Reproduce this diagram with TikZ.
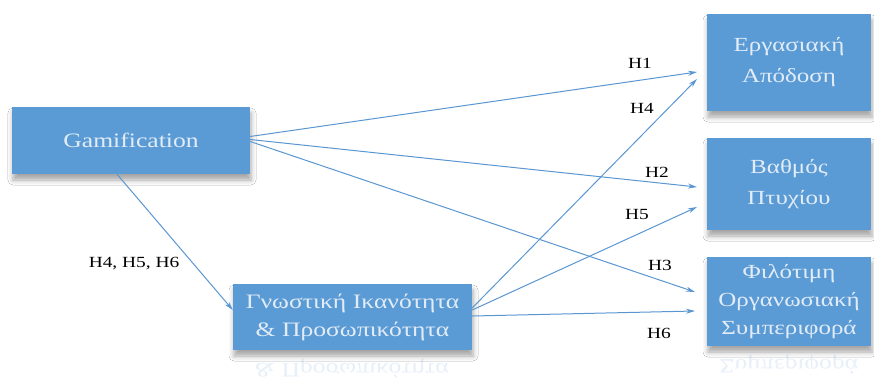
\documentclass[tikz,border=0pt]{standalone}
\usepackage{fontspec}
\setmainfont[FakeStretch=1.25]{Liberation Serif}
\usetikzlibrary{shadows.blur,arrows.meta}
\definecolor{boxblue}{HTML}{5B9BD5}
\definecolor{boxtext}{HTML}{E2ECF7}
\definecolor{linkblue}{HTML}{5A97D2}
\tikzset{
  construct/.style={draw=none, fill=boxblue, text=boxtext, align=center,
    font=\fontsize{20.5}{28}\selectfont, inner sep=0pt,
    blur shadow={shadow xshift=1pt, shadow yshift=-6pt, shadow blur radius=5pt, shadow opacity=35}},
  outcome/.style={construct, minimum width=164pt, font=\fontsize{20}{31}\selectfont},
  mirror/.style={text=boxblue!15, align=center, yscale=-1,
    font=\fontsize{20.5}{28}\selectfont, inner sep=0pt},
  link/.style={draw=linkblue, line width=1pt, -{Stealth[length=9pt,width=5pt]}},
  hyp/.style={font=\fontsize{15.5}{17}\selectfont, text=black, inner sep=1pt}
}
\begin{document}
\begin{tikzpicture}[x=1pt,y=-1pt]
\useasboundingbox[fill=white] (0,0) rectangle (874,383);

% faint mirrored text under the lower boxes
\node[mirror] (cogmirror) at (352,369) {\& Προσωπικότητα};
\node[mirror] (ocbmirror) at (789,365) {Συμπεριφορά};

% constructs
\node[construct, minimum width=238pt, minimum height=67pt] (gam) at (131,140.5)
  {Gamification};
\node[construct, minimum width=239pt, minimum height=66pt] (cog) at (352.5,317)
  {Γνωστική Ικανότητα\\\& Προσωπικότητα};
\node[outcome, minimum height=97pt] (work) at (789,62.5)
  {Εργασιακή\\Απόδοση};
\node[outcome, minimum height=92pt] (grade) at (789,184)
  {Βαθμός\\Πτυχίου};
\node[outcome, minimum height=89pt, font=\fontsize{20}{28}\selectfont] (ocb) at (789,301.5)
  {Φιλότιμη\\Οργανωσιακή\\Συμπεριφορά};

% arrow tips, a little before the outcome boxes
\coordinate (t1) at (697,72);
\coordinate (t4) at (697,79);
\coordinate (t2) at (697,187);
\coordinate (t5) at (697,207);
\coordinate (t3) at (695,292);
\coordinate (t6) at (695,311);

% direct paths
\draw[link] ([yshift=4pt]gam.east) -- (t1);
\draw[link] ([yshift=1pt]gam.east) -- (t2);
\draw[link] ([yshift=-1pt]gam.east) -- (t3);
\draw[link] ([xshift=-14pt]gam.south) -- ([yshift=7pt]cog.west);

% mediated paths
\draw[link] ([yshift=9pt]cog.east) -- (t4);
\draw[link] ([yshift=7pt]cog.east) -- (t5);
\draw[link] ([yshift=1pt]cog.east) -- (t6);

% hypothesis labels
\node[hyp] (h1) at (640,63) {H1};
\node[hyp] (h4) at (642,108) {H4};
\node[hyp] (h2) at (657,172) {H2};
\node[hyp] (h5) at (637,214) {H5};
\node[hyp] (h3) at (660,265) {H3};
\node[hyp] (h6) at (659,333) {H6};
\node[hyp] (h456) at (134,264) {H4, H5, H6};
\end{tikzpicture}
\end{document}
